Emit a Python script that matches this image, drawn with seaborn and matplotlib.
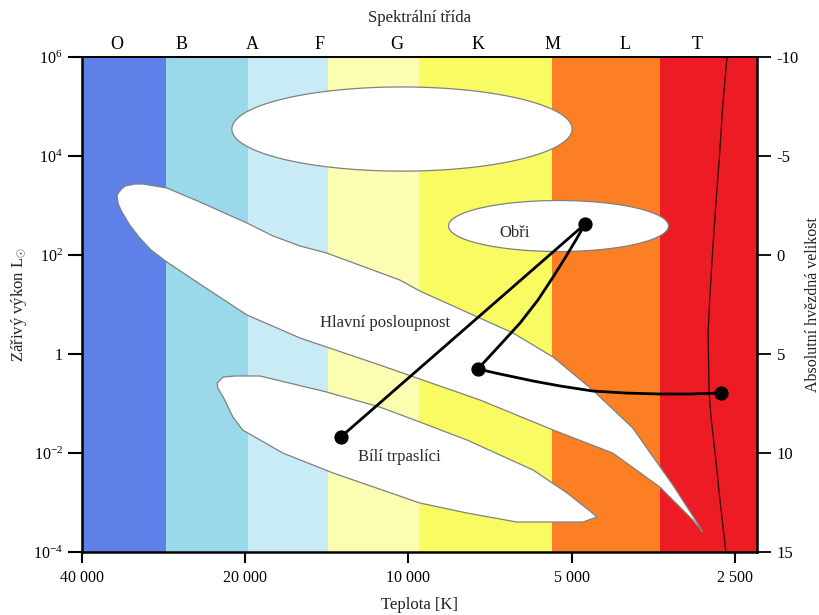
import numpy as np
import matplotlib
matplotlib.use("Agg")
import matplotlib.pyplot as plt
from matplotlib.ticker import NullLocator
import seaborn as sns

# Spectral classes along the top axis
spectral_classes = ["O", "B", "A", "F", "G", "K", "M", "L", "T"]
class_label_temp = [34500, 26200, 19450, 14570, 10500, 7440, 5410, 3985, 2935]

# Colour bands (temperature edges in K, hot -> cool)
band_edges_temp = [40000, 28000, 19800, 14100, 9550, 5430, 3434, 2270]
band_colors = ["#5f80e8", "#99d9ea", "#c8ebf5", "#fbfdb0", "#f8fc62", "#fd7f24", "#ed1c24"]

# Axis ticks
temp_ticks = [40000, 20000, 10000, 5000, 2500]
temp_tick_labels = ["40 000", "20 000", "10 000", "5 000", "2 500"]
lum_ticks = [1e-4, 1e-2, 1, 1e2, 1e4, 1e6]
lum_tick_labels = [r"$\mathregular{10^{-4}}$", r"$\mathregular{10^{-2}}$", "1",
                   r"$\mathregular{10^{2}}$", r"$\mathregular{10^{4}}$", r"$\mathregular{10^{6}}$"]
mag_ticks = [-10, -5, 0, 5, 10, 15]
mag_tick_labels = ["-10", "-5", "0", "5", "10", "15"]

# Main sequence outline (log10 T, log10 L)
ms_log_temp = [4.538, 4.531, 4.523, 4.505, 4.490, 4.446, 4.385, 4.298, 4.250, 4.200, 4.151,
               4.016, 3.979, 3.807, 3.733, 3.660, 3.586, 3.512, 3.462, 3.457, 3.475,
               3.536, 3.623, 3.733, 3.868, 3.979, 4.053, 4.151, 4.200, 4.298, 4.385,
               4.446, 4.475, 4.496, 4.514, 4.529, 4.536]
ms_log_lum = [3.212, 3.320, 3.394, 3.434, 3.434, 3.354, 3.071, 2.646, 2.384, 2.182, 2.040,
              1.495, 1.273, 0.424, -0.061, -0.727, -1.495, -2.646, -3.495, -3.596, -3.354,
              -2.687, -2.000, -1.535, -0.929, -0.505, -0.222, 0.141, 0.323, 0.788, 1.414,
              1.859, 2.100, 2.343, 2.600, 2.869, 3.040]

# White dwarf outline (log10 T, log10 L)
wd_log_temp = [4.353, 4.342, 4.320, 4.274, 4.151, 4.053, 3.979, 3.892, 3.770, 3.707, 3.665,
               3.652, 3.678, 3.800, 3.892, 3.979, 4.139, 4.232, 4.306, 4.324, 4.342, 4.352]
wd_log_lum = [-0.586, -0.465, -0.444, -0.444, -0.768, -1.071, -1.374, -1.737, -2.343, -2.808,
              -3.172, -3.293, -3.394, -3.394, -3.212, -3.010, -2.404, -2.000, -1.535, -1.273,
              -0.869, -0.687]

# Supergiant and giant regions: centre (log T, log L) and half-widths in dex
supergiant_region = dict(log_temp=4.012, log_lum=4.545, half_temp=0.314, half_lum=0.85)
giant_region = dict(log_temp=3.723, log_lum=2.586, half_temp=0.203, half_lum=0.515)

# Cool-edge limit curve
limit_log_temp = [3.412, 3.420, 3.426, 3.433, 3.439, 3.444, 3.447, 3.445, 3.441, 3.434, 3.425, 3.414]
limit_log_lum = [6.0, 4.99, 3.98, 2.97, 2.0, 1.09, 0.42, -0.79, -1.33, -2.0, -2.95, -4.0]

# Evolutionary track segments (log T, log L)
seg_wd_to_giant_t = [4.125, 3.674]
seg_wd_to_giant_l = [-1.677, 2.626]
seg_giant_to_ms_t = [3.674, 3.691, 3.711, 3.733, 3.761, 3.794, 3.831, 3.872]
seg_giant_to_ms_l = [2.626, 2.303, 1.939, 1.556, 1.091, 0.626, 0.182, -0.303]
seg_ms_to_cool_t = [3.872, 3.831, 3.770, 3.720, 3.660, 3.600, 3.536, 3.480, 3.423]
seg_ms_to_cool_l = [-0.303, -0.404, -0.545, -0.646, -0.747, -0.788, -0.808, -0.808, -0.788]
star_log_temp = [4.125, 3.674, 3.872, 3.423]
star_log_lum = [-1.677, 2.626, -0.303, -0.788]

# Region labels
region_labels = ["Obři", "Hlavní posloupnost", "Bílí trpaslíci"]
region_label_temp = [6360, 11050, 10380]
region_label_lum = [278, 4.2, 0.0083]

sns.set_theme(style="ticks")
plt.rcParams["font.family"] = ["Liberation Serif", "DejaVu Serif"]
plt.rcParams["mathtext.fontset"] = "custom"
plt.rcParams["mathtext.rm"] = "Liberation Serif"
plt.rcParams["mathtext.it"] = "Liberation Serif:italic"
plt.rcParams["axes.unicode_minus"] = False
plt.rcParams["text.color"] = "black"
plt.rcParams["axes.labelcolor"] = "#222222"
plt.rcParams["xtick.color"] = "black"
plt.rcParams["ytick.color"] = "black"
plt.rcParams["axes.edgecolor"] = "black"

fig = plt.figure(figsize=(8.19, 6.15), dpi=100)
ax = fig.add_axes([0.1005, 0.1024, 0.8242, 0.8049])
ax.set_xscale("log")
ax.set_yscale("log")
ax.set_xlim(band_edges_temp[0], band_edges_temp[-1])
ax.set_ylim(1e-4, 1e6)

# spectral colour bands
for t0, t1, c in zip(band_edges_temp[:-1], band_edges_temp[1:], band_colors):
    ax.axvspan(t0, t1, color=c, lw=0, zorder=0)

outline = dict(facecolor="white", edgecolor="#808080", lw=0.9, zorder=2)
ax.fill(10 ** np.array(ms_log_temp), 10 ** np.array(ms_log_lum), **outline)
ax.fill(10 ** np.array(wd_log_temp), 10 ** np.array(wd_log_lum), **outline)
theta = np.linspace(0, 2 * np.pi, 300)
for reg in (supergiant_region, giant_region):
    lt = reg["log_temp"] + reg["half_temp"] * np.cos(theta)
    ll = reg["log_lum"] + reg["half_lum"] * np.sin(theta)
    ax.fill(10 ** lt, 10 ** ll, **outline)

ax.plot(10 ** np.array(limit_log_temp), 10 ** np.array(limit_log_lum),
        color="#2a0606", lw=0.9, zorder=3)

for st, sl in ((seg_wd_to_giant_t, seg_wd_to_giant_l),
               (seg_giant_to_ms_t, seg_giant_to_ms_l),
               (seg_ms_to_cool_t, seg_ms_to_cool_l)):
    sns.lineplot(x=10 ** np.array(st), y=10 ** np.array(sl), sort=False, estimator=None,
                 color="black", lw=2.0, ax=ax, zorder=4)
sns.scatterplot(x=10 ** np.array(star_log_temp), y=10 ** np.array(star_log_lum),
                s=90, color="black", edgecolor="black", ax=ax, zorder=5)

for txt, t, l in zip(region_labels, region_label_temp, region_label_lum):
    ax.text(t, l, txt, ha="center", va="center", fontsize=12, color="#2a2a2a", zorder=6)

# bottom / left axes
ax.set_xticks(temp_ticks, labels=temp_tick_labels)
ax.xaxis.set_minor_locator(NullLocator())
ax.set_yticks(lum_ticks, labels=lum_tick_labels)
ax.yaxis.set_minor_locator(NullLocator())
ax.tick_params(axis="x", direction="out", length=8, width=1.5, pad=5, labelsize=11.5)
ax.tick_params(axis="y", direction="out", length=10, width=1.5, pad=4, labelsize=11.5)
ax.set_xlabel("Teplota [K]", fontsize=12, labelpad=8)
ax.set_ylabel(r"Zářivý výkon L$_{\odot}$", fontsize=12, labelpad=3)
for side, w in (("left", 1.8), ("bottom", 1.8), ("top", 1.2)):
    ax.spines[side].set_linewidth(w)
ax.spines["right"].set_visible(False)

# top axis with spectral classes
top = ax.secondary_xaxis("top")
top.set_xticks(class_label_temp, labels=spectral_classes)
top.xaxis.set_minor_locator(NullLocator())
top.tick_params(axis="x", length=0, pad=3, labelsize=13)
top.set_xlabel("Spektrální třída", fontsize=12, labelpad=10)
top.spines["top"].set_linewidth(1.2)

# right axis: absolute magnitude
axr = ax.twinx()
axr.set_ylim(15, -10)
axr.set_yticks(mag_ticks, labels=mag_tick_labels)
axr.tick_params(axis="y", direction="out", length=10, width=1.3, pad=4, labelsize=12)
axr.set_ylabel("Absolutní hvězdná velikost", fontsize=11.5, labelpad=4)
for side in ("left", "top", "bottom"):
    axr.spines[side].set_visible(False)
axr.spines["right"].set_linewidth(1.8)

fig.savefig("out.png", dpi=100)
